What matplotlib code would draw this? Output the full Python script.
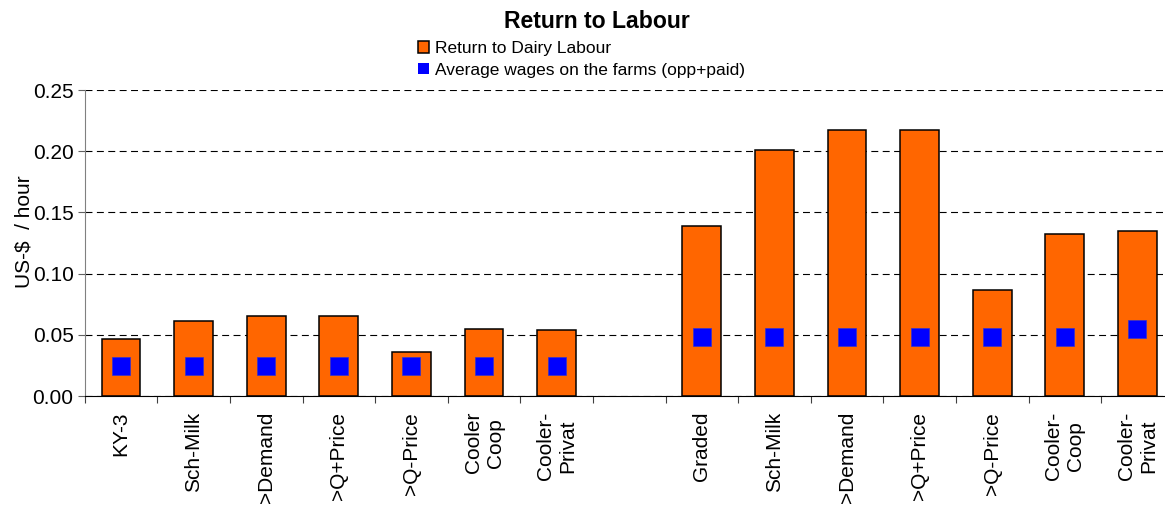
import numpy as np
import matplotlib.pyplot as plt
from matplotlib.patches import Patch

plt.rcParams['font.family'] = ['Liberation Sans', 'DejaVu Sans']
plt.rcParams['lines.scale_dashes'] = False

# two groups of seven, with an empty slot between them
categories = ["KY-3", "Sch-Milk", ">Demand", ">Q+Price", ">Q-Price", "Cooler\nCoop", "Cooler-\nPrivat",
              "",
              "Graded", "Sch-Milk", ">Demand", ">Q+Price", ">Q-Price", "Cooler-\nCoop", "Cooler-\nPrivat"]
return_dairy_labour = [0.0463, 0.0610, 0.0650, 0.0650, 0.0357, 0.0545, 0.0537,
                       np.nan,
                       0.1390, 0.2007, 0.2173, 0.2173, 0.0870, 0.1326, 0.1350]
average_wages = [0.0248, 0.0248, 0.0248, 0.0248, 0.0248, 0.0248, 0.0248,
                 np.nan,
                 0.0480, 0.0480, 0.0480, 0.0480, 0.0480, 0.0480, 0.0550]

ret = np.array(return_dairy_labour)
wag = np.array(average_wages)
x = np.arange(len(categories))
has = ~np.isnan(ret)

W, H = 1165, 508
fig = plt.figure(figsize=(W / 100, H / 100), dpi=100)
ax = fig.add_axes([84.7 / W, 1 - 396 / H, 1089 / W, 306 / H])

ax.bar(x[has], ret[has], width=0.533, color='#FF6600', edgecolor='black',
       linewidth=1.1, zorder=2)
ax.plot(x[has], wag[has], 's', color='#0000FF', markersize=13.4,
        markeredgecolor='#3333CC', markeredgewidth=0.5, linestyle='none', zorder=3)

ax.set_xlim(-0.5, 14.5)
ax.set_ylim(0, 0.25)
ax.set_yticks(np.arange(0, 0.251, 0.05))
ax.yaxis.set_major_formatter(plt.FormatStrFormatter('%.2f'))
ax.yaxis.grid(True, color='black', linestyle=(0, (5, 3.2)), linewidth=0.8)
ax.set_axisbelow(True)

# tick marks between categories, labels at the centres
ax.set_xticks(np.arange(-0.5, 15, 1))
ax.set_xticklabels([])
ax.set_xticks(x, categories, minor=True)
ax.tick_params(axis='x', which='major', direction='out', length=5, width=0.8, color='#404040')
ax.tick_params(axis='x', which='minor', length=0, pad=11.5, labelsize=15, rotation=90)
ax.tick_params(axis='y', direction='out', length=5, width=0.8, color='#606060', labelsize=15, pad=3)

for s in ('top', 'right'):
    ax.spines[s].set_visible(False)
ax.spines['left'].set_color('#808080')
ax.spines['bottom'].set_color('black')

ax.set_ylabel('US-$  / hour', fontsize=15)
ax.yaxis.set_label_coords(-0.047, 0.536)

fig.text(596.7 / W, 1 - 21 / H, 'Return to Labour', ha='center', va='center',
         fontsize=16.6, fontweight='bold')

handles = [Patch(facecolor='#FF6600', edgecolor='black', linewidth=1.1),
           Patch(facecolor='#0000FF', edgecolor='none')]
fig.legend(handles, ['Return to Dairy Labour', 'Average wages on the farms (opp+paid)'],
           loc='upper left', bbox_to_anchor=(418 / W, 1 - 41 / H), frameon=False,
           fontsize=12.5, handlelength=0.65, handleheight=0.65, handletextpad=0.35,
           labelspacing=0.38, borderpad=0, borderaxespad=0)

fig.savefig('out.png', dpi=100)
